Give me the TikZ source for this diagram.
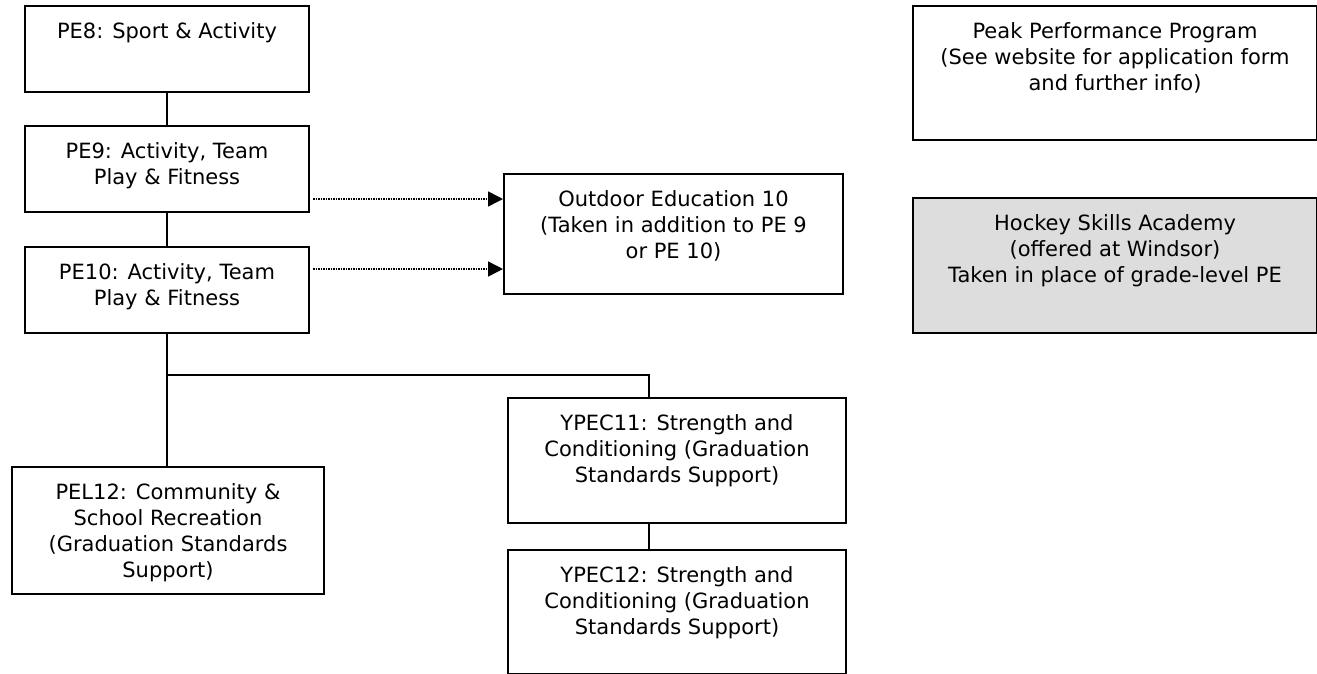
\documentclass[tikz,border=0pt]{standalone}
\usepackage{fontspec}
\setmainfont{DejaVu Sans}
\usetikzlibrary{arrows.meta}
\definecolor{academygray}{HTML}{DDDDDD}

% text of a course box: width, height, lines
\newcommand{\coursetext}[3]{\parbox[t][#2][t]{#1}{\centering\vspace*{14pt}\strut #3}}

\begin{document}
\begin{tikzpicture}[x=1pt,y=-1pt,
    course/.style={draw, line width=2pt, inner sep=0pt, anchor=north west, font=\fontsize{21}{26}\selectfont},
    link/.style={line width=2pt},
    optional/.style={line width=1.5pt, dash pattern=on 1.5pt off 1pt, shorten <=3pt, -{Triangle[length=15pt,width=15pt]}}]
    \useasboundingbox (0,0) rectangle (1317,673);

    % Grade-level PE
    \node[course] (pe8) at (24,5) {\coursetext{284pt}{86pt}{PE8: Sport \& Activity}};
    \node[course] (pe9) at (24,125) {\coursetext{284pt}{86pt}{PE9: Activity, Team\\Play \& Fitness}};
    \node[course] (pe10) at (24,246) {\coursetext{284pt}{86pt}{PE10: Activity, Team\\Play \& Fitness}};

    % Outdoor Education
    \node[course] (outdoor) at (503,173) {\coursetext{339pt}{120pt}{Outdoor Education 10\\(Taken in addition to PE 9\\or PE 10)}};

    % Programs on the right
    \node[course] (peak) at (912,5) {\coursetext{404pt}{134pt}{Peak Performance Program\\(See website for application form\\and further info)}};
    \node[course, fill=academygray] (hockey) at (912,197) {\coursetext{404pt}{135pt}{Hockey Skills Academy\\(offered at Windsor)\\Taken in place of grade-level PE}};

    % Senior courses
    \node[course] (pel12) at (11,466) {\coursetext{312pt}{127pt}{PEL12: Community \&\\School Recreation\\(Graduation Standards\\Support)}};
    \node[course] (ypec11) at (507,397) {\coursetext{338pt}{125pt}{YPEC11: Strength and\\Conditioning (Graduation\\Standards Support)}};
    \node[course] (ypec12) at (507,549) {\coursetext{338pt}{124pt}{YPEC12: Strength and\\Conditioning (Graduation\\Standards Support)}};

    % Solid links
    \draw[link] (pe8.south) -- (pe9.north);
    \draw[link] (pe9.south) -- (pe10.north);
    \coordinate (fork) at ([yshift=-41pt]pe10.south);
    \coordinate (ytop) at ([xshift=-28pt]ypec11.north);
    \coordinate (ybot) at ([xshift=-28pt]ypec11.south);
    \draw[link] (pe10.south) -- (fork) -- (fork |- pel12.north);
    \draw[link] (fork) -| (ytop);
    \draw[link] (ybot) -- (ybot |- ypec12.north);

    % Dotted arrows to Outdoor Education
    \coordinate (from9) at ([yshift=14pt]pe9.south east);
    \coordinate (from10) at ([yshift=-23pt]pe10.north east);
    \draw[optional] (from9) -- (from9 -| outdoor.west);
    \draw[optional] (from10) -- (from10 -| outdoor.west);
\end{tikzpicture}
\end{document}
